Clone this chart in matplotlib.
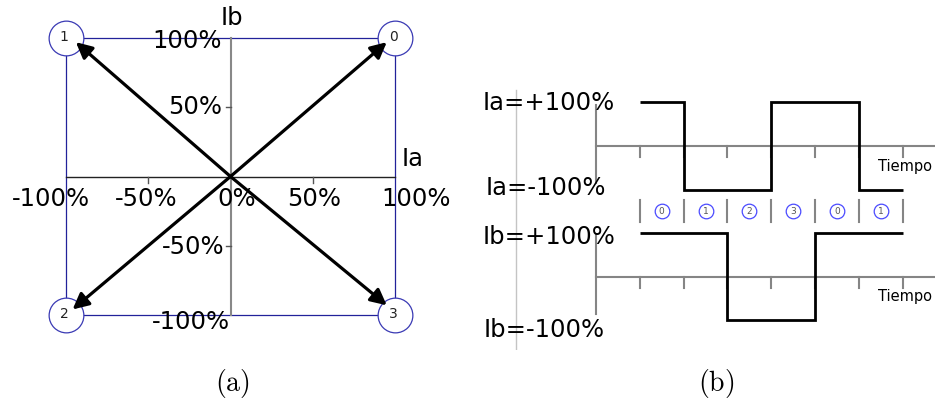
import numpy as np
import matplotlib.pyplot as plt

plt.rcParams['mathtext.fontset'] = 'cm'

# vector diagram: corner states and current vectors (in %)
corner_x = [100, -100, -100, 100]
corner_y = [100, 100, -100, -100]
corner_lbl = ['0', '1', '2', '3']
tip_x = [95, -94, -96, 95]
tip_y = [97, 97, -96, -93]
xtick_vals = [-100, -50, 0, 50, 100]
xtick_lbl = ['-100%', '-50%', '0%', '50%', '100%']
ytick_vals = [100, 50, -50, -100]
ytick_lbl = ['100%', '50%', '-50%', '-100%']

# step sequence in time
states = [0, 1, 2, 3, 0, 1]
ia = [1, -1, -1, 1, 1, -1]
ib = [1, 1, -1, -1, 1, 1]
t_edges = [1, 2, 3, 4, 5, 6, 7]

blue = '#22229a'
fs = 17.5

fig = plt.figure(figsize=(9.35, 4.04), dpi=100)

## (a) vector plot
ax = fig.add_axes([66/935, 1-315/404, 329/935, 277/404])
ax.set_xlim(-100, 100)
ax.set_ylim(-100, 100)
ax.axis('off')

# square between the corners
sq_x = corner_x + [corner_x[0]]
sq_y = corner_y + [corner_y[0]]
ax.plot(sq_x, sq_y, color=blue, lw=0.9, zorder=1, clip_on=False)
ax.plot([-100, 100], [0, 0], color='#222222', lw=1.0, zorder=1, clip_on=False)
ax.plot([0, 0], [-100, 100], color='#888888', lw=1.5, zorder=1, clip_on=False)
for v in [-50, 50]:
    ax.plot([v, v], [0, -4.5], color='#555555', lw=1.0, clip_on=False)
    ax.plot([-3, 0], [v, v], color='#555555', lw=1.0, clip_on=False)

ax.plot(corner_x, corner_y, 'o', ms=25, mfc='white', mec='#3a3ab4', mew=0.9,
        ls='none', zorder=2, clip_on=False)
for cx, cy, lb in zip(corner_x, corner_y, corner_lbl):
    ax.text(cx - 1.2, cy + 1.0, lb, fontsize=10, color='#222222',
            ha='center', va='center', zorder=3)

for tx, ty in zip(tip_x, tip_y):
    ax.annotate('', xy=(tx, ty), xytext=(0, 0), zorder=4,
                arrowprops=dict(arrowstyle='-|>', color='black', lw=2.3,
                                mutation_scale=24, shrinkA=0, shrinkB=0))

for v, lb in zip(xtick_vals, xtick_lbl):
    off = {-100: -9.4, -50: -1, 0: 3.6, 50: 1, 100: 13}[v]
    ax.text(v + off, -16.6, lb, fontsize=fs, ha='center', va='center', zorder=5)
ax.text(-5.5, 97.5, ytick_lbl[0], fontsize=fs, ha='right', va='center', zorder=5)
ax.text(-4.9, 50.5, ytick_lbl[1], fontsize=fs, ha='right', va='center', zorder=5)
ax.text(-3.6, -51, ytick_lbl[2], fontsize=fs, ha='right', va='center', zorder=5)
ax.text(-0.6, -105, ytick_lbl[3], fontsize=fs, ha='right', va='center', zorder=5)
ax.text(0.6, 114.5, 'Ib', fontsize=fs, ha='center', va='center')
ax.text(110.6, 12.3, 'Ia', fontsize=fs, ha='center', va='center')

## (b) time diagram
bx = fig.add_axes([470/935, 1-350/404, 465/935, 270/404])
bx.set_xlim(-2.877, 7.74)
bx.set_ylim(-4.679, 1.514)
bx.axis('off')

gray = '#858585'
bx.plot([-1.83, -1.83], [1.28, -4.68], color='#c4c4c4', lw=1.0)
for base in [0, -3]:
    bx.plot([0, 8], [base, base], color=gray, lw=1.5)
    bx.plot([0, 0], [base + 0.95, base - 0.85], color=gray, lw=1.5)
    for t in t_edges:
        bx.plot([t, t], [base, base - 0.25], color=gray, lw=1.5)

bx.stairs(ia, t_edges, baseline=None, color='black', lw=2.0, zorder=3)
bx.stairs(np.array(ib) - 3, t_edges, baseline=None, color='black', lw=2.0, zorder=3)

# state numbers between the two signals
for t in t_edges:
    bx.plot([t, t], [-1.24, -1.74], color=gray, lw=1.5)
mid = [(a + b) / 2 for a, b in zip(t_edges[:-1], t_edges[1:])]
bx.plot(mid, [-1.5]*len(mid), 'o', ms=10.5, mfc='white', mec='#4a4aff', mew=0.9, ls='none')
for m, s in zip(mid, states):
    bx.text(m, -1.5, str(s), fontsize=6.5, color='#555555', ha='center', va='center')

bx.text(-2.60, 0.99, 'Ia=+100%', fontsize=fs, ha='left', va='center')
bx.text(-2.53, -0.96, 'Ia=-100%', fontsize=fs, ha='left', va='center')
bx.text(-2.60, -2.09, 'Ib=+100%', fontsize=fs, ha='left', va='center')
bx.text(-2.56, -4.22, 'Ib=-100%', fontsize=fs, ha='left', va='center')
bx.text(6.44, -0.48, 'Tiempo', fontsize=10.5, ha='left', va='center')
bx.text(6.44, -3.46, 'Tiempo', fontsize=10.5, ha='left', va='center')

fig.text(232/935, 1-384/404, r'$\mathrm{(a)}$', fontsize=20, ha='center', va='center')
fig.text(716/935, 1-384/404, r'$\mathrm{(b)}$', fontsize=20, ha='center', va='center')

plt.savefig('out.png', dpi=100)
